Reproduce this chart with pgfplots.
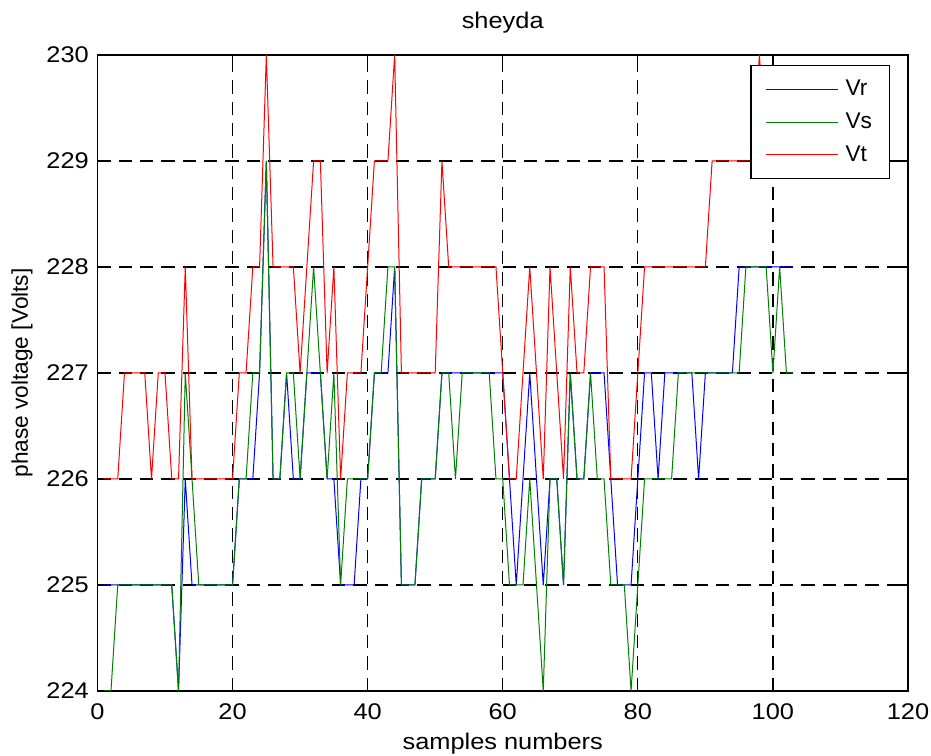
\documentclass[border=0pt]{standalone}
\usepackage{fontspec}
\setmainfont{Liberation Sans}
\newfontfamily\widesans[FakeStretch=1.12]{Liberation Sans}
\usepackage{pgfplots}
\pgfplotsset{compat=1.18}
\usepackage{pgfplotstable}

\definecolor{vrblue}{rgb}{0,0,1}
\definecolor{vsgreen}{rgb}{0,0.5,0}
\definecolor{vtred}{rgb}{1,0,0}

% sample number, phase voltages R, S, T [V]
\pgfplotstableread{
k   vr   vs   vt
1   225  224  226
2   225  224  226
3   225  225  226
4   225  225  227
5   225  225  227
6   225  225  227
7   225  225  227
8   225  225  226
9   225  225  227
10  225  225  227
11  225  225  226
12  224  224  226
13  226  227  228
14  225  226  226
15  225  225  226
16  225  225  226
17  225  225  226
18  225  225  226
19  225  225  226
20  225  225  226
21  226  226  227
22  226  226  227
23  226  227  228
24  227  227  228
25  229  229  230
26  226  226  228
27  226  226  228
28  227  227  228
29  226  227  228
30  226  226  227
31  227  227  228
32  227  228  229
33  227  227  229
34  226  226  227
35  226  227  228
36  225  225  226
37  225  226  227
38  225  226  227
39  226  226  227
40  226  226  228
41  227  227  229
42  227  227  229
43  227  228  229
44  228  228  230
45  225  225  227
46  225  225  227
47  225  225  227
48  226  226  227
49  226  226  227
50  226  226  227
51  227  227  229
52  227  227  228
53  227  226  228
54  227  227  228
55  227  227  228
56  227  227  228
57  227  227  228
58  227  227  228
59  227  226  228
60  227  226  227
61  226  225  226
62  225  225  226
63  226  225  227
64  227  226  228
65  226  225  227
66  225  224  226
67  226  226  228
68  226  226  227
69  225  225  226
70  227  227  228
71  226  226  227
72  226  226  227
73  227  227  228
74  227  226  228
75  227  226  228
76  226  225  226
77  225  225  226
78  225  225  226
79  225  224  226
80  226  225  227
81  227  226  228
82  227  226  228
83  226  226  228
84  227  226  228
85  227  226  228
86  227  227  228
87  227  227  228
88  227  227  228
89  226  227  228
90  227  227  228
91  227  227  229
92  227  227  229
93  227  227  229
94  227  227  229
95  228  227  229
96  228  228  229
97  228  228  229
98  228  228  230
99  228  228  229
100 228  227  229
101 228  228  229
102 228  227  229
103 228  227  229
}\phasedata

\newcommand{\labelfont}{\fontsize{17}{20}\selectfont}
\newcommand{\widefont}{\widesans\fontsize{17}{20}\selectfont}

% legend sample: a plain line segment in the series colour
\pgfplotsset{
  keyline/.style={legend image code/.code={%
    \draw[#1, line width=0.8pt] (0pt,0pt) -- (54pt,0pt);}},
}

\begin{document}
\begin{tikzpicture}
\begin{axis}[
  scale only axis,
  width=607.9pt, height=477pt,
  xmin=0, xmax=120, ymin=224, ymax=230,
  xtick={0,20,...,120}, ytick={224,225,...,230},
  grid=major,
  major grid style={black, line width=0.95pt, dash pattern=on 10pt off 6pt},
  axis line style={black, line width=1.1pt},
  every tick/.style={black, line width=1pt},
  tick align=inside,
  major tick length=6pt,
  /pgf/number format/assume math mode=true,
  /pgf/number format/1000 sep={},
  tick label style={font=\widefont},
  xticklabel style={yshift=-6pt},
  yticklabel style={xshift=-3pt},
  title={sheyda},
  title style={font=\widefont, at={(0.5,1)}, anchor=base, yshift=14pt},
  xlabel={samples numbers},
  xlabel style={font=\widefont, at={(0.5,0)}, anchor=base, yshift=-44pt},
  ylabel={phase voltage [Volts]},
  ylabel style={font=\labelfont, at={(axis description cs:-0.093,0.5)}, anchor=center},
  legend style={at={(0.9778,0.9843)}, anchor=north east,
    line width=1pt, fill=white, font=\labelfont,
    inner xsep=11pt, inner ysep=9pt, row sep=7.5pt,
    /tikz/every odd column/.append style={column sep=3pt}},
  legend cell align=left,
]
\addplot[color=vrblue, line width=0.75pt, keyline=vrblue] table[x=k, y=vr]{\phasedata};
\addlegendentry{Vr}
\addplot[color=vsgreen, line width=0.75pt, keyline=vsgreen] table[x=k, y=vs]{\phasedata};
\addlegendentry{Vs}
\addplot[color=vtred, line width=0.75pt, keyline=vtred] table[x=k, y=vt]{\phasedata};
\addlegendentry{Vt}
\end{axis}
\pgfresetboundingbox
\path[use as bounding box]
  ([shift={(-73.1pt,-48.75pt)}]current axis.south west) rectangle
  ([shift={(17.25pt,41.25pt)}]current axis.north east);
\end{tikzpicture}
\end{document}
